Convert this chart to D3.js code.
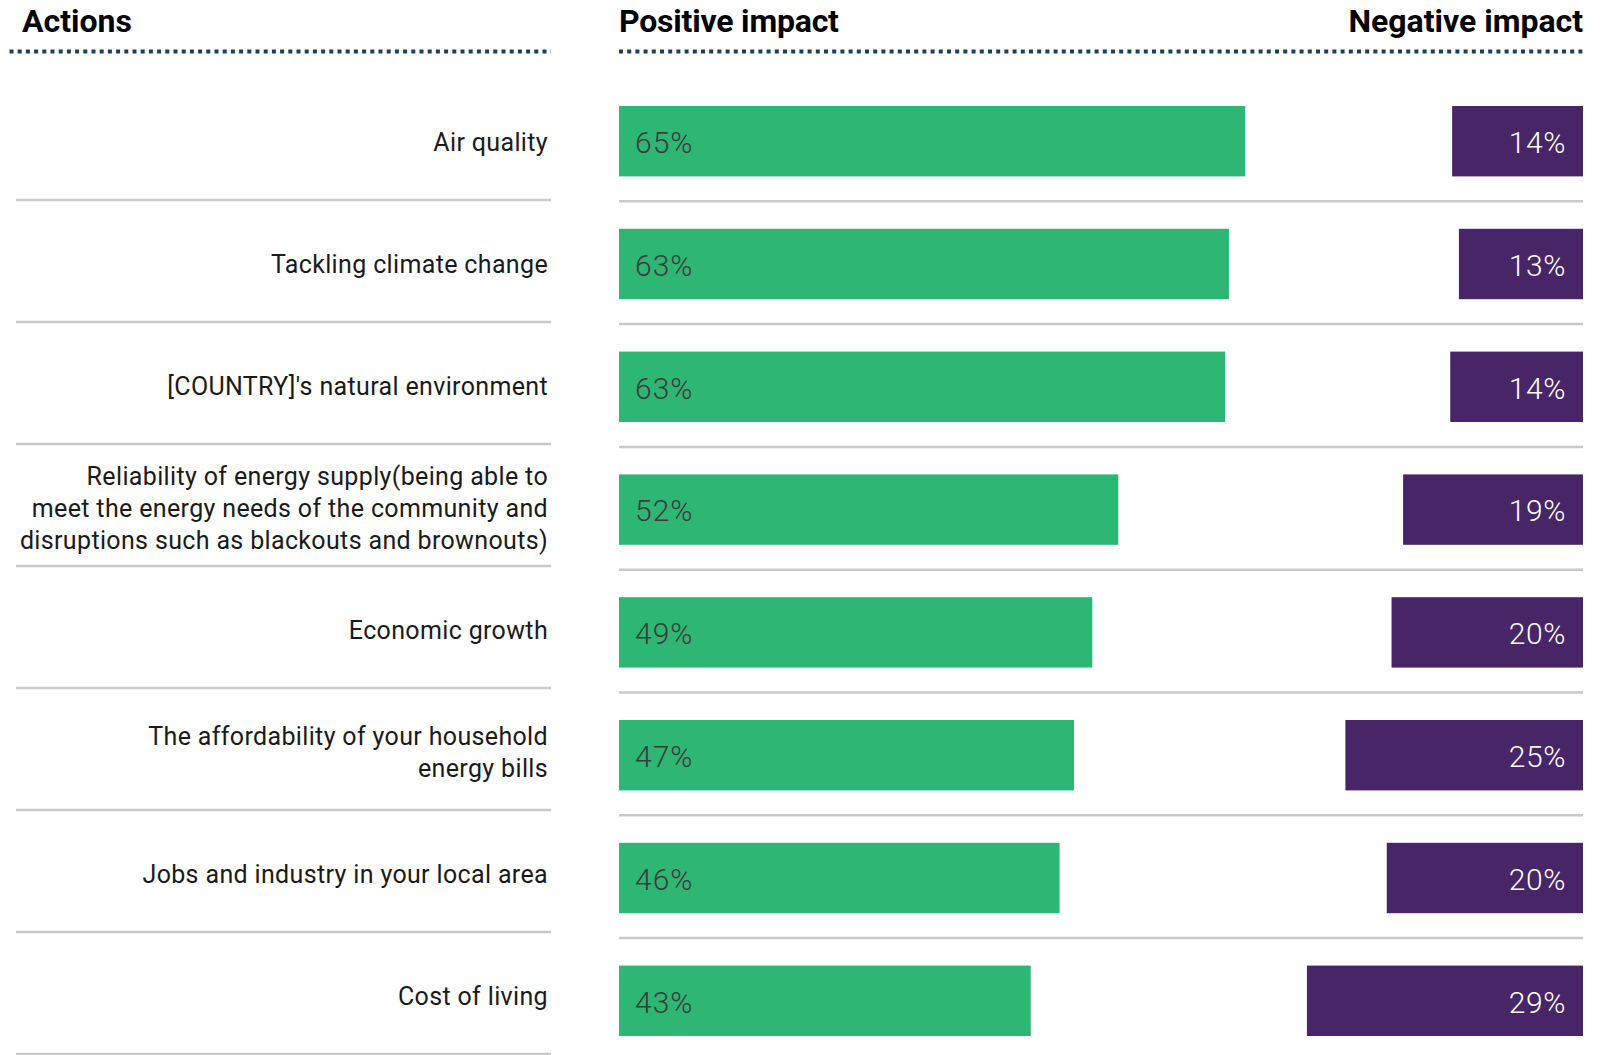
<!DOCTYPE html>
<html>
<head>
<meta charset="utf-8">
<script src="https://cdn.jsdelivr.net/npm/d3@7"></script>
<style>
  body { margin: 0; background: #fff; }
  svg { display: block; font-family: Roboto, sans-serif; }
</style>
</head>
<body>
<div id="chart"></div>
<script>
// rows, top to bottom
const actions = [
  ["Air quality"],
  ["Tackling climate change"],
  ["[COUNTRY]'s natural environment"],
  ["Reliability of energy supply(being able to", "meet the energy needs of the community and", "disruptions such as blackouts and brownouts)"],
  ["Economic growth"],
  ["The affordability of your household", "energy bills"],
  ["Jobs and industry in your local area"],
  ["Cost of living"],
];
// shares (%); labels show them rounded
const positive = [65.1, 63.4, 63.0, 51.9, 49.2, 47.3, 45.8, 42.8];
const negative = [13.6, 12.9, 13.8, 18.7, 19.9, 24.7, 20.4, 28.7];
const headers = ["Actions", "Positive impact", "Negative impact"];

const W = 1600, H = 1055;
const GREEN = "#2eb674", PURPLE = "#472566", DOTS = "#1b4257", RULE = "#c9c9c9";
const pct = (v) => d3.format(".0f")(v) + "%";

var svg = d3.select("#chart").append("svg").attr("width", W).attr("height", H);

var keys = actions.map((a, i) => i);

// left side (labels) and right side (bars) are on slightly different pitches
var rowL = d3.scaleBand().domain(keys).range([78, 78 + 8 * 122]);
var rowR = d3.scaleBand().domain(keys).range([78, 78 + 8 * 122.8]);

var barL = 619, barR = 1583;
var x = d3.scaleLinear().domain([0, 100]).range([0, 962]);

// headers
svg.append("text").attr("x", 22).attr("y", 32).text(headers[0])
  .attr("font-size", 32).attr("font-weight", 700).attr("fill", "#000");
svg.append("text").attr("x", barL).attr("y", 32).text(headers[1])
  .attr("font-size", 32).attr("font-weight", 700).attr("fill", "#000").attr("letter-spacing", -0.2);
svg.append("text").attr("x", barR).attr("y", 32).text(headers[2]).attr("text-anchor", "end")
  .attr("font-size", 32).attr("font-weight", 700).attr("fill", "#000");

// dotted rules under headers
[[9.5, 551], [619, 1583]].forEach(([a, b]) => {
  svg.append("line").attr("x1", a).attr("x2", b).attr("y1", 51.5).attr("y2", 51.5)
    .attr("stroke", DOTS).attr("stroke-width", 4).attr("stroke-dasharray", "4,4.2");
});

// left separators
svg.append("g").selectAll("line").data(keys).join("line")
  .attr("x1", 16).attr("x2", 551)
  .attr("y1", (d) => rowL(d) + rowL.bandwidth())
  .attr("y2", (d) => rowL(d) + rowL.bandwidth())
  .attr("stroke", RULE).attr("stroke-width", 2.5);

// right separators
svg.append("g").selectAll("line").data(keys).join("line")
  .attr("x1", barL).attr("x2", barR)
  .attr("y1", (d) => rowR(d) + rowR.bandwidth() + 0.5)
  .attr("y2", (d) => rowR(d) + rowR.bandwidth() + 0.5)
  .attr("stroke", RULE).attr("stroke-width", 2.5);

// row labels
var lineH = 31.8;
svg.append("g").selectAll("text").data(keys).join("text")
  .attr("text-anchor", "end")
  .attr("font-size", 25).attr("letter-spacing", 0.35).attr("fill", "#1a1a1a")
  .each(function (d) {
    let lines = actions[d];
    let cy = rowL(d) + 64;
    let t = d3.select(this);
    lines.forEach((ln, j) => {
      t.append("tspan").attr("x", 548)
        .attr("y", cy + (j - (lines.length - 1) / 2) * lineH)
        .attr("dy", "0.35em").text(ln);
    });
  });

// bars
var barOff = 28, barH = 70.4;
var g = svg.append("g");
g.selectAll("rect.pos").data(keys).join("rect").attr("class", "pos")
  .attr("x", barL).attr("y", (d) => rowR(d) + barOff)
  .attr("width", (d) => x(positive[d])).attr("height", barH).attr("fill", GREEN);

g.selectAll("rect.neg").data(keys).join("rect").attr("class", "neg")
  .attr("x", (d) => barR - x(negative[d])).attr("y", (d) => rowR(d) + barOff)
  .attr("width", (d) => x(negative[d])).attr("height", barH).attr("fill", PURPLE);

g.selectAll("text.pos").data(keys).join("text").attr("class", "pos")
  .attr("x", barL + 16).attr("y", (d) => rowR(d) + barOff + barH / 2 + 1).attr("dy", "0.36em")
  .attr("font-size", 30).attr("font-weight", 300).attr("letter-spacing", 1).attr("fill", "#3b3b3b")
  .text((d) => pct(positive[d]));

g.selectAll("text.neg").data(keys).join("text").attr("class", "neg")
  .attr("x", barR - 17).attr("y", (d) => rowR(d) + barOff + barH / 2 + 1).attr("dy", "0.36em")
  .attr("text-anchor", "end")
  .attr("font-size", 30).attr("font-weight", 300).attr("letter-spacing", 0.6).attr("fill", "#fff")
  .text((d) => pct(negative[d]));
</script>
</body>
</html>
